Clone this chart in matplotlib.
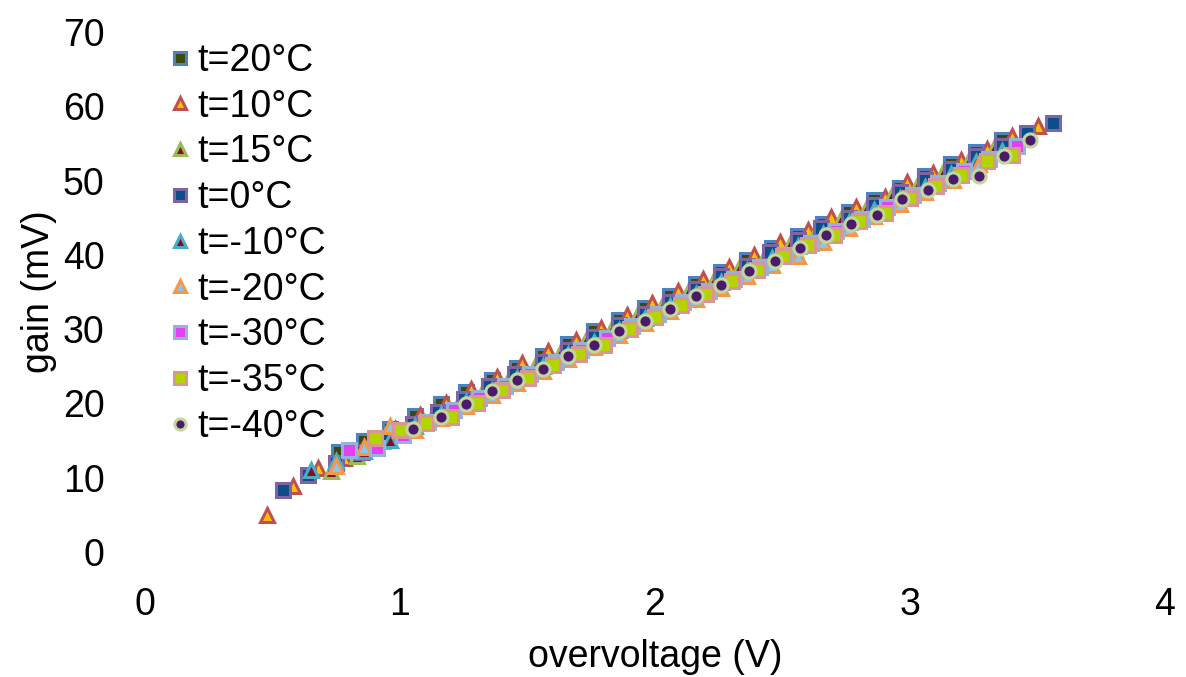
import matplotlib
matplotlib.use('Agg')
import matplotlib.pyplot as plt

plt.rcParams['font.family'] = ['Liberation Sans', 'DejaVu Sans']

# overvoltage (V) / gain (mV), one pair of lists per temperature
x_20 = [0.76, 0.86, 0.96, 1.06, 1.16, 1.26, 1.36, 1.46, 1.56, 1.66, 1.76, 1.86, 1.96, 2.06,
        2.16, 2.26, 2.36, 2.46, 2.56, 2.66, 2.76, 2.86, 2.96, 3.06, 3.16, 3.26, 3.36]
y_20 = [13.5, 14.9, 16.6, 18.3, 19.9, 21.6, 23.2, 24.8, 26.4, 28.0, 29.7, 31.3, 32.9, 34.5,
        36.1, 37.7, 39.3, 40.9, 42.6, 44.2, 45.8, 47.4, 49.0, 50.6, 52.2, 53.8, 55.4]

x_10 = [0.48, 0.58, 0.68, 0.78, 0.88, 0.98, 1.08, 1.18, 1.28, 1.38, 1.48, 1.58, 1.69, 1.79,
        1.89, 1.99, 2.09, 2.19, 2.29, 2.39, 2.49, 2.60, 2.69, 2.79, 2.90, 2.99, 3.09, 3.20,
        3.30, 3.40, 3.50]
y_10 = [5.0, 8.9, 11.3, 12.6, 14.6, 16.6, 18.5, 20.1, 21.9, 23.6, 25.4, 27.0, 28.5, 30.2,
        31.9, 33.5, 35.1, 36.7, 38.4, 40.0, 41.8, 43.3, 45.1, 46.5, 47.8, 49.8, 51.0, 52.8,
        54.3, 56.0, 57.3]

x_15 = [0.73, 0.83, 0.93, 1.03, 1.13, 1.23, 1.33, 1.43, 1.53, 1.63, 1.73, 1.83, 1.93, 2.03,
        2.13, 2.23, 2.33, 2.43, 2.53, 2.63, 2.73, 2.83, 2.93, 3.03, 3.13, 3.23, 3.33]
y_15 = [10.9, 12.9, 14.9, 16.8, 18.4, 20.1, 21.9, 23.5, 25.1, 27.0, 28.5, 30.2, 31.8, 33.4,
        35.0, 36.6, 38.3, 39.9, 41.5, 43.1, 44.8, 46.4, 48.0, 49.6, 51.2, 52.8, 54.4]

x_0 = [0.54, 0.64, 0.75, 0.85, 0.95, 1.05, 1.15, 1.25, 1.35, 1.45, 1.56, 1.66, 1.76, 1.86,
       1.96, 2.06, 2.16, 2.26, 2.36, 2.45, 2.56, 2.65, 2.76, 2.86, 2.96, 3.06, 3.16, 3.26,
       3.36, 3.46, 3.56]
y_0 = [8.4, 10.4, 12.0, 13.4, 15.4, 17.2, 18.9, 20.6, 22.3, 24.0, 25.6, 27.2, 29.0, 30.6,
       32.1, 33.7, 35.4, 37.1, 38.5, 40.4, 42.0, 43.6, 44.9, 46.7, 48.5, 50.1, 51.6, 53.3,
       54.6, 56.4, 57.8]

x_m10 = [0.65, 0.75, 0.86, 0.96, 1.06, 1.16, 1.26, 1.36, 1.46, 1.56, 1.66, 1.76, 1.86, 1.96,
         2.06, 2.16, 2.26, 2.36, 2.46, 2.56, 2.66, 2.76, 2.86, 2.96, 3.06, 3.16, 3.26, 3.36]
y_m10 = [11.0, 12.3, 13.6, 15.1, 16.9, 18.6, 20.2, 21.8, 23.4, 25.0, 26.7, 28.3, 29.9, 31.5,
         33.1, 34.7, 36.3, 38.0, 39.6, 41.2, 42.8, 44.4, 46.0, 47.6, 49.2, 50.9, 52.5, 54.0]

x_m20 = [0.75, 0.86, 0.96, 1.06, 1.16, 1.26, 1.36, 1.46, 1.56, 1.66, 1.76, 1.86, 1.96, 2.06,
         2.16, 2.26, 2.36, 2.46, 2.56, 2.66, 2.76, 2.86, 2.96, 3.06, 3.17, 3.27]
y_m20 = [11.6, 14.1, 17.0, 16.4, 18.0, 19.6, 21.2, 22.8, 24.4, 26.0, 27.6, 29.2, 30.8, 32.4,
         34.0, 35.6, 37.2, 38.6, 39.9, 41.8, 43.6, 45.2, 46.8, 48.4, 50.1, 52.3]

x_m30 = [0.80, 0.91, 1.01, 1.11, 1.21, 1.31, 1.41, 1.51, 1.61, 1.71, 1.81, 1.91, 2.01, 2.11,
         2.21, 2.31, 2.41, 2.51, 2.61, 2.71, 2.81, 2.91, 3.01, 3.11, 3.21, 3.31, 3.42]
y_m30 = [13.8, 14.0, 15.7, 17.5, 19.1, 20.7, 22.3, 24.0, 25.6, 27.2, 28.8, 30.4, 32.0, 33.6,
         35.2, 36.8, 38.4, 40.0, 41.6, 43.2, 44.8, 46.5, 48.1, 49.7, 51.3, 52.9, 54.6]

x_m35 = [0.90, 1.00, 1.10, 1.20, 1.30, 1.40, 1.50, 1.60, 1.70, 1.80, 1.90, 2.00, 2.10, 2.20,
         2.30, 2.40, 2.50, 2.60, 2.70, 2.80, 2.90, 3.00, 3.10, 3.20, 3.30, 3.40]
y_m35 = [15.3, 16.4, 17.4, 18.2, 20.0, 21.8, 23.4, 25.2, 26.6, 27.9, 30.0, 31.6, 33.3, 34.8,
         36.5, 38.0, 39.9, 41.3, 42.7, 44.5, 45.7, 47.7, 49.3, 50.7, 52.6, 53.4]

x_m40 = [1.05, 1.16, 1.26, 1.36, 1.46, 1.56, 1.66, 1.76, 1.86, 1.96, 2.06, 2.16, 2.26, 2.37,
         2.47, 2.57, 2.67, 2.77, 2.87, 2.97, 3.07, 3.17, 3.27, 3.37, 3.47]
y_m40 = [16.6, 18.2, 19.9, 21.7, 23.2, 24.6, 26.4, 27.9, 29.8, 31.1, 32.7, 34.4, 35.9, 37.8,
         39.2, 40.9, 42.7, 44.1, 45.4, 47.5, 48.8, 50.2, 50.6, 53.3, 55.4]

# label, x, y, marker, fill, edge
series = [
    ('t=20°C', x_20, y_20, 's', '#3b4812', '#4f81bd'),
    ('t=10°C', x_10, y_10, '^', '#ffc000', '#c0504d'),
    ('t=15°C', x_15, y_15, '^', '#800e2c', '#9bbb59'),
    ('t=0°C', x_0, y_0, 's', '#0c4d8a', '#8064a2'),
    ('t=-10°C', x_m10, y_m10, '^', '#820c2a', '#4bacc6'),
    ('t=-20°C', x_m20, y_m20, '^', '#86c8f2', '#f79646'),
    ('t=-30°C', x_m30, y_m30, 's', '#e43ff2', '#95b3d7'),
    ('t=-35°C', x_m35, y_m35, 's', '#b4d400', '#d99694'),
    ('t=-40°C', x_m40, y_m40, 'o', '#4b1a6b', '#c3d69b'),
]

FS = 27

fig = plt.figure(figsize=(11.86, 6.77), dpi=100)
ax = fig.add_axes([0.1223, 0.1846, 0.86, 0.7681])

for label, xs, ys, m, fc, ec in series:
    ms = 10.5 if m == '^' else 9.5
    ax.plot(xs, ys, linestyle='none', marker=m, markersize=ms,
            markerfacecolor=fc, markeredgecolor=ec, markeredgewidth=2.2, label=label)

ax.set_xlim(0, 4)
ax.set_ylim(0, 70)
ax.set_xticks([0, 1, 2, 3, 4])
ax.set_yticks(range(0, 71, 10))
for s in ax.spines.values():
    s.set_visible(False)
ax.tick_params(axis='both', length=0, labelsize=FS)
ax.tick_params(axis='y', pad=29)
ax.tick_params(axis='x', pad=25)

ax.set_xlabel('overvoltage (V)', fontsize=FS, labelpad=12)
ax.set_ylabel('gain (mV)', fontsize=FS, labelpad=4)

ax.legend(loc='upper left', bbox_to_anchor=(0.0085, 1.008), frameon=False, fontsize=FS,
          markerscale=0.85, handlelength=0.6, handletextpad=0.16, labelspacing=0.26,
          borderaxespad=0)

fig.savefig('out.png', dpi=100)
